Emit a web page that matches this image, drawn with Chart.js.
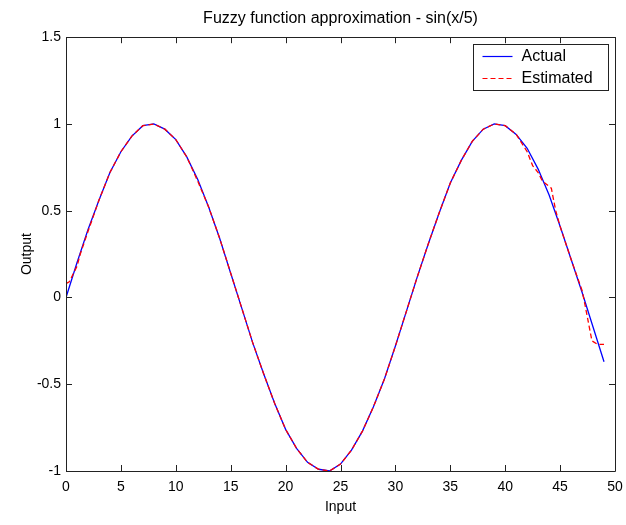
<!DOCTYPE html>
<html>
<head>
<meta charset="utf-8">
<script src="https://cdn.jsdelivr.net/npm/chart.js@4/dist/chart.umd.min.js"></script>
<style>
  body { margin: 0; background: #fff; }
  #wrap { width: 626px; height: 525px; }
</style>
</head>
<body>
<div id="wrap"><canvas id="fuzzy-chart" width="626" height="525"></canvas></div>
<script>
const inputs = [0, 1, 2, 3, 4, 5, 6, 7, 8, 9,
    10, 11, 12, 13, 14, 15, 16, 17, 18, 19,
    20, 21, 22, 23, 24, 25, 26, 27, 28, 29,
    30, 31, 32, 33, 34, 35, 36, 37, 38, 39,
    40, 41, 42, 43, 44, 45, 46, 47, 48, 49]
const actual = [0, 0.20, 0.39, 0.56, 0.72, 0.84, 0.93, 0.99, 1.00, 0.97,
    0.91, 0.81, 0.68, 0.52, 0.34, 0.14, -0.06, -0.26, -0.44, -0.61,
    -0.76, -0.87, -0.95, -0.99, -1.00, -0.96, -0.88, -0.77, -0.63, -0.47,
    -0.28, -0.08, 0.12, 0.31, 0.49, 0.66, 0.79, 0.90, 0.97, 1.00,
    0.99, 0.94, 0.86, 0.74, 0.59, 0.41, 0.22, 0.03, -0.17, -0.37]

// Estimated curve (fuzzy output)
const estInputs = [0, 0.3, 1, 1.3, 2, 3, 4, 5, 6, 7, 8, 9,
    10, 11, 12, 13, 14, 15, 16, 17, 18, 19,
    20, 21, 22, 23, 24, 25, 26, 27, 28, 29,
    30, 31, 32, 33, 34, 35, 36, 37, 38, 39,
    40, 41, 42, 42.5, 43, 43.4, 44.2, 44.6, 45, 46, 47, 47.2, 47.9, 48.4, 49]
const estimated = [0.08, 0.09, 0.18, 0.25, 0.38, 0.56, 0.72, 0.84, 0.93, 0.99, 1.00, 0.97,
    0.91, 0.81, 0.67, 0.52, 0.34, 0.14, -0.06, -0.26, -0.44, -0.61,
    -0.76, -0.87, -0.95, -0.99, -1.00, -0.96, -0.88, -0.77, -0.63, -0.47,
    -0.28, -0.08, 0.12, 0.31, 0.49, 0.66, 0.79, 0.90, 0.97, 1.00,
    0.99, 0.94, 0.84, 0.76, 0.72, 0.67, 0.63, 0.50, 0.41, 0.22, 0.04, -0.02, -0.25, -0.27, -0.27]

const xTicks = [0, 5, 10, 15, 20, 25, 30, 35, 40, 45, 50]
const yTicks = [-1, -0.5, 0, 0.5, 1, 1.5]

const fontFamily = "'Liberation Sans', Arial, sans-serif"

// matlab style box with ticks pointing inward
const axesBox = {
    id: 'axesBox',
    afterDatasetsDraw(chart) {
        const ctx = chart.ctx
        const area = chart.chartArea
        const xs = chart.scales.x
        const ys = chart.scales.y
        const len = 6
        ctx.save()
        ctx.strokeStyle = '#222'
        ctx.lineWidth = 1
        ctx.beginPath()
        ctx.rect(Math.round(area.left) + 0.5, Math.round(area.top) + 0.5,
            Math.round(area.right - area.left), Math.round(area.bottom - area.top))
        for (let i = 0; i < xTicks.length; i++) {
            const px = Math.round(xs.getPixelForValue(xTicks[i])) + 0.5
            ctx.moveTo(px, area.bottom)
            ctx.lineTo(px, area.bottom - len)
            ctx.moveTo(px, area.top)
            ctx.lineTo(px, area.top + len)
        }
        for (let i = 0; i < yTicks.length; i++) {
            const py = Math.round(ys.getPixelForValue(yTicks[i])) + 0.5
            ctx.moveTo(area.left, py)
            ctx.lineTo(area.left + len, py)
            ctx.moveTo(area.right, py)
            ctx.lineTo(area.right - len, py)
        }
        ctx.stroke()
        ctx.restore()
    }
}

// legend box in the top right corner of the plot
const boxLegend = {
    id: 'boxLegend',
    afterDraw(chart) {
        const ctx = chart.ctx
        const area = chart.chartArea
        const w = 135, h = 46
        const left = Math.round(area.right - 7 - w) + 0.5
        const top = Math.round(area.top + 7) + 0.5
        ctx.save()
        ctx.fillStyle = '#fff'
        ctx.fillRect(left, top, w, h)
        ctx.strokeStyle = '#222'
        ctx.lineWidth = 1
        ctx.strokeRect(left, top, w, h)
        ctx.font = '16px ' + fontFamily
        ctx.textBaseline = 'middle'
        ctx.fillStyle = '#000'
        chart.data.datasets.forEach(function(ds, i) {
            const y = top + 12 + i * 22
            ctx.beginPath()
            ctx.strokeStyle = ds.borderColor
            ctx.lineWidth = 1.2
            ctx.setLineDash(ds.borderDash || [])
            ctx.moveTo(left + 9, y)
            ctx.lineTo(left + 39, y)
            ctx.stroke()
            ctx.setLineDash([])
            ctx.fillText(ds.label, left + 48, y)
        })
        ctx.restore()
    }
}

const actualData = inputs.map((x, i) => ({ x: x, y: actual[i] }))
const estimatedData = estInputs.map((x, i) => ({ x: x, y: estimated[i] }))

const config = {
    type: 'line',
    data: {
        datasets: [{
            label: 'Actual',
            data: actualData,
            borderColor: '#0000ff',
            borderWidth: 1.3,
            pointRadius: 0,
            tension: 0,
            order: 2
        }, {
            label: 'Estimated',
            data: estimatedData,
            borderColor: '#ff0000',
            borderWidth: 1.3,
            borderDash: [5, 3],
            pointRadius: 0,
            tension: 0,
            order: 1
        }]
    },
    options: {
        responsive: false,
        animation: false,
        layout: {
            padding: { left: 0, right: 11, top: 0, bottom: 0 }
        },
        plugins: {
            legend: { display: false },
            tooltip: { enabled: false },
            title: {
                display: true,
                text: 'Fuzzy function approximation - sin(x/5)',
                fullSize: false,
                color: '#000',
                font: { family: fontFamily, size: 16, weight: 'normal' },
                padding: { top: 9, bottom: 9 }
            }
        },
        scales: {
            x: {
                type: 'linear',
                min: 0,
                max: 50,
                afterBuildTicks: function(scale) {
                    scale.ticks = xTicks.map(v => ({ value: v }))
                },
                afterFit: function(scale) {
                    scale.height = 54
                    scale.paddingLeft = 0
                    scale.paddingRight = 0
                },
                grid: { display: false, drawTicks: false },
                border: { display: false },
                ticks: {
                    color: '#000',
                    padding: 8,
                    maxRotation: 0,
                    font: { family: fontFamily, size: 14 }
                },
                title: {
                    display: true,
                    text: 'Input',
                    color: '#000',
                    font: { family: fontFamily, size: 14 },
                    padding: { top: 0, bottom: 9 }
                }
            },
            y: {
                type: 'linear',
                min: -1,
                max: 1.5,
                afterBuildTicks: function(scale) {
                    scale.ticks = yTicks.map(v => ({ value: v }))
                },
                afterFit: function(scale) {
                    scale.width = 66
                    scale.paddingTop = 0
                    scale.paddingBottom = 0
                },
                grid: { display: false, drawTicks: false },
                border: { display: false },
                ticks: {
                    color: '#000',
                    padding: 5,
                    font: { family: fontFamily, size: 14 },
                    callback: function(value) {
                        return String(value)
                    }
                },
                title: {
                    display: true,
                    text: 'Output',
                    color: '#000',
                    font: { family: fontFamily, size: 14 },
                    padding: { top: 19, bottom: 0 }
                }
            }
        }
    },
    plugins: [axesBox, boxLegend]
}

const fuzzyChart = new Chart(document.getElementById('fuzzy-chart'), config)
</script>
</body>
</html>
